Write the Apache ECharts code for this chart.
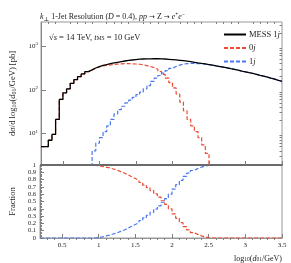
<!DOCTYPE html>
<html><head><meta charset="utf-8">
<script src="https://cdn.jsdelivr.net/npm/echarts@6/dist/echarts.min.js"></script>
<style>html,body{margin:0;padding:0;background:#fff}#c{width:291px;height:263px}</style>
</head><body><div id="c"></div>
<script>
// bin edges 0.20 ... 3.50, width 0.05 (66 bins)
const binWidth = 0.05, binStart = 0.2;
// MESS 1j total (pb)
const messTotal = [5,5,7,9.5,21,60,85,105,140,170,200,230,260,285,315,340,360,378,395,410,425,440,455,468,480,490,500,505,508,510,512,512,510,505,498,490,482,472,462,450,438,425,412,400,390,378,365,352,340,328,316,303,292,280,268,257,246,236,225,214,204,194,184,175,165,155];
// 0j contribution (pb)
const zeroJet = [5,5,7,9.5,21,60,85,105,140,170,200,230,260,285,312,335,350,362,372,380,387,392,395,395,393,389,383,372,358,340,320,295,262,225,185,145,110,80,52,33,21,15,11,8,5.5,3.5,0.8,null,null,null,null,null,null,null,null,null,null,null,null,null,null,null,null,null,null,null];
// 1j contribution (pb)
const oneJet = [null,null,null,null,null,null,null,null,null,null,null,null,null,0.8,4,6,8,11,15,21,28,35,42,50,58,67,77,88,105,125,155,185,212,240,275,310,340,365,385,395,400,400,397,392,386,376,365,352,340,328,316,303,292,280,268,257,246,236,225,214,204,194,184,175,165,155];
// fractions
const frac0j = [1,1,1,1,1,1,1,1,1,1,1,1,1,1,0.995,0.99,0.98,0.97,0.96,0.945,0.93,0.91,0.89,0.865,0.84,0.815,0.79,0.76,0.725,0.69,0.65,0.605,0.56,0.51,0.46,0.40,0.33,0.27,0.21,0.155,0.11,0.075,0.05,0.03,0.015,0.006,0,0,0,0,0,0,0,0,0,0,0,0,0,0,0,0,0,0,0,0];
const frac1j = [0,0,0,0,0,0,0,0,0,0,0,0,0,0,0,0.005,0.015,0.03,0.04,0.055,0.07,0.09,0.11,0.135,0.16,0.185,0.21,0.24,0.275,0.31,0.35,0.395,0.44,0.49,0.54,0.60,0.67,0.73,0.79,0.845,0.89,0.925,0.95,0.97,0.985,0.994,1,1,1,1,1,1,1,1,1,1,1,1,1,1,1,1,1,1,1,1];
// ticks
const xMajorTicks = [0.5,1,1.5,2,2.5,3,3.5];
const xMinorTicks = [0.3,0.4,0.6,0.7,0.8,0.9,1.1,1.2,1.3,1.4,1.6,1.7,1.8,1.9,2.1,2.2,2.3,2.4,2.6,2.7,2.8,2.9,3.1,3.2,3.3,3.4];
const yMajorTicks = [10,100,1000];
const yMinorTicks = [2,3,4,5,6,7,8,9,20,30,40,50,60,70,80,90,200,300,400,500,600,700,800,900,2000,3000];

function steps(vals){
  const pts=[];
  for(let i=0;i<vals.length;i++){
    const l=+(binStart+binWidth*i).toFixed(3), r=+(binStart+binWidth*(i+1)).toFixed(3);
    if(vals[i]==null){pts.push([l,null]);continue;}
    pts.push([l,vals[i]]); pts.push([r,vals[i]]);
  }
  return pts;
}
const SERIF = '"Liberation Serif","DejaVu Serif",serif';
const RED = '#ee4a33', BLUE = '#4a78f0', AX = '#808080', TXT = '#222';
const chart = echarts.init(document.getElementById('c'), null, {renderer:'canvas'});
const sup = {fontSize:5, verticalAlign:'top', padding:[0,0,4,0], fontFamily:SERIF, color:TXT};
const sub = {fontSize:5, verticalAlign:'bottom', padding:[3,0,0,0], fontFamily:SERIF, color:TXT};
const it = {fontStyle:'italic', fontFamily:SERIF, color:TXT};
const arrow = {fontFamily:'"DejaVu Sans",sans-serif', fontSize:7, color:TXT};
chart.setOption({
  animation:false,
  title:[{
    text:'{i|k}{s|⊥} 1-Jet Resolution ({i|D} = 0.4), {i|pp} {a|→} Z {a|→} {i|e}{p|+}{i|e}{p|−}',
    left:35, top:7,
    textStyle:{fontSize:8, fontWeight:'normal', fontFamily:SERIF, color:TXT,
      rich:{i:Object.assign({},it,{fontSize:8}), s:Object.assign({},sub,{fontSize:6}), p:Object.assign({},sup,{fontSize:5.5}), a:arrow}}
  },{
    text:'√{o|s} = 14 TeV, {i|t}{b|MS} = 10 GeV',
    left:44, top:28,
    textStyle:{fontSize:8.5, fontWeight:'normal', fontFamily:SERIF, color:TXT,
      rich:{i:Object.assign({},it,{fontSize:8.5}), o:{fontSize:8.5, fontFamily:SERIF, color:TXT, fontStyle:'italic'}, b:Object.assign({},sub,{fontSize:5.5})}}
  }],
  legend:{
    orient:'vertical', left:218, top:25, itemWidth:22, itemHeight:6, itemGap:4.5,
    data:['MESS 1j','0j','1j'],
    itemStyle:{opacity:0, borderWidth:0},
    formatter:function(n){ if(n==='MESS 1j') return 'MESS 1{i|j}'; return n.slice(0,1)+'{i|j}'; },
    textStyle:{fontSize:8.5, fontFamily:SERIF, color:TXT, padding:[0,0,0,-2], rich:{i:Object.assign({},it,{fontSize:8.5})}}
  },
  grid:[
    {left:36, right:9, top:22, height:143, show:true, borderColor:'#999', borderWidth:1},
    {left:36, right:9, top:165, height:74, show:true, borderColor:'#999', borderWidth:1}
  ],
  xAxis:[
    {gridIndex:0, type:'value', min:0.2, max:3.5, z:10, splitLine:{show:false},
     axisLine:{show:true, onZero:false, lineStyle:{color:'#6a6a6a', width:2}},
     axisTick:{show:true, inside:true, length:4, customValues:xMajorTicks, lineStyle:{color:AX}},
     axisLabel:{show:false}},
    {gridIndex:0, type:'value', min:0.2, max:3.5, splitLine:{show:false},
     axisLine:{show:false},
     axisTick:{show:true, inside:true, length:2, customValues:xMinorTicks, lineStyle:{color:AX}},
     axisLabel:{show:false}},
    {gridIndex:1, type:'value', min:0.2, max:3.5, splitLine:{show:false},
     axisLine:{show:true, onZero:false, lineStyle:{color:'#999', width:1}},
     axisTick:{show:true, inside:true, length:4, customValues:xMajorTicks, lineStyle:{color:AX}},
     axisLabel:{show:true, customValues:xMajorTicks, fontSize:7, fontFamily:SERIF, color:TXT, margin:4},
     name:'log{b|10}({i|d}{b|01}/GeV)', nameLocation:'end', nameGap:0,
     nameTextStyle:{fontSize:8, fontFamily:SERIF, color:TXT, align:'right', verticalAlign:'top', padding:[16,0,0,0],
       rich:{b:Object.assign({},sub,{fontSize:5.5}), i:Object.assign({},it,{fontSize:8})}}},
    {gridIndex:1, type:'value', min:0.2, max:3.5, splitLine:{show:false},
     axisLine:{show:false},
     axisTick:{show:true, inside:true, length:2, customValues:xMinorTicks, lineStyle:{color:AX}},
     axisLabel:{show:false}}
  ],
  yAxis:[
    {gridIndex:0, type:'log', logBase:10, min:1.9, max:3550, splitLine:{show:false},
     axisLine:{show:true, lineStyle:{color:'#888'}},
     axisTick:{show:true, inside:true, length:5, customValues:yMajorTicks, lineStyle:{color:AX}},
     axisLabel:{show:true, customValues:yMajorTicks, margin:3, fontSize:7, fontFamily:SERIF, color:TXT,
       formatter:function(v){return '10{p|'+Math.round(Math.log10(v))+'}';},
       rich:{p:Object.assign({},sup,{fontSize:5})}},
     name:'dσ/d log{b|10}({i|d}{b|01}/GeV) [pb]', nameLocation:'middle', nameRotate:90, nameGap:24,
     nameTextStyle:{fontSize:8.5, fontFamily:SERIF, color:TXT, rich:{b:Object.assign({},sub,{fontSize:6}), i:Object.assign({},it,{fontSize:8.5})}}},
    {gridIndex:0, type:'log', logBase:10, min:1.9, max:3550, splitLine:{show:false},
     axisLine:{show:false},
     axisTick:{show:true, inside:true, length:2.5, customValues:yMinorTicks, lineStyle:{color:AX}},
     axisLabel:{show:false}},
    {gridIndex:1, type:'value', min:0, max:1, interval:0.1, splitLine:{show:false},
     axisLine:{show:true, lineStyle:{color:'#888'}},
     axisTick:{show:true, inside:true, length:4, lineStyle:{color:AX}},
     minorTick:{show:true, splitNumber:5, length:2, lineStyle:{color:AX}},
     axisLabel:{show:true, margin:4, fontSize:6.5, fontFamily:SERIF, color:TXT,
       formatter:function(v){return String(+v.toFixed(1));}},
     name:'Fraction', nameLocation:'middle', nameRotate:90, nameGap:22,
     nameTextStyle:{fontSize:8.5, fontFamily:SERIF, color:TXT}}
  ],
  series:[
    {name:'0j', type:'line', xAxisIndex:0, yAxisIndex:0, data:steps(zeroJet), symbol:'none', z:3,
     lineStyle:{color:RED, width:1.2, type:[4,2]}, itemStyle:{color:RED}},
    {name:'1j', type:'line', xAxisIndex:0, yAxisIndex:0, data:steps(oneJet), symbol:'none', z:3,
     lineStyle:{color:BLUE, width:1.2, type:[4,2]}, itemStyle:{color:BLUE}},
    {name:'MESS 1j', type:'line', xAxisIndex:0, yAxisIndex:0, data:steps(messTotal), symbol:'none', z:4,
     lineStyle:{color:'#000', width:1.3}, itemStyle:{color:'#000'}},
    {name:'0j', type:'line', xAxisIndex:2, yAxisIndex:2, data:steps(frac0j), symbol:'none', z:3,
     lineStyle:{color:RED, width:1.2, type:[4,2]}, itemStyle:{color:RED}},
    {name:'1j', type:'line', xAxisIndex:2, yAxisIndex:2, data:steps(frac1j), symbol:'none', z:3,
     lineStyle:{color:BLUE, width:1.2, type:[4,2]}, itemStyle:{color:BLUE}}
  ]
});
</script></body></html>
